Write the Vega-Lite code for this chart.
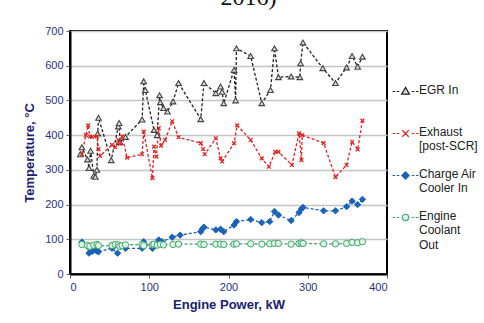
{
  "$schema": "https://vega.github.io/schema/vega-lite/v6.json",
  "width": 317,
  "height": 243,
  "autosize": "none",
  "padding": {"left": 70, "top": 31, "right": 97, "bottom": 49},
  "background": "white",
  "title": {"text": "2016)", "font": "Liberation Serif", "fontSize": 24, "fontWeight": "normal", "color": "#111", "anchor": "middle", "frame": "group", "dx": 20, "dy": 9, "offset": 5, "baseline": "alphabetic"},
  "config": {
    "font": "Liberation Sans",
    "view": {"stroke": "black", "strokeWidth": 2},
    "axis": {"labelFont": "Liberation Sans", "labelFontSize": 11, "labelColor": "#2b2f86", "titleFont": "Liberation Sans", "titleFontSize": 13, "titleFontWeight": "bold", "titleColor": "#1c2070", "domainColor": "black", "domainWidth": 2, "tickColor": "#666", "tickSize": 4}
  },
  "datasets": {
    "pts": [
      {"series": "EGR In", "kw": 13, "temp": 345},
      {"series": "EGR In", "kw": 15, "temp": 365},
      {"series": "EGR In", "kw": 22, "temp": 330},
      {"series": "EGR In", "kw": 24, "temp": 305},
      {"series": "EGR In", "kw": 26, "temp": 355},
      {"series": "EGR In", "kw": 30, "temp": 283},
      {"series": "EGR In", "kw": 32, "temp": 280},
      {"series": "EGR In", "kw": 34, "temp": 300},
      {"series": "EGR In", "kw": 35, "temp": 405},
      {"series": "EGR In", "kw": 36, "temp": 450},
      {"series": "EGR In", "kw": 52, "temp": 328},
      {"series": "EGR In", "kw": 61, "temp": 425},
      {"series": "EGR In", "kw": 62, "temp": 435},
      {"series": "EGR In", "kw": 63, "temp": 380},
      {"series": "EGR In", "kw": 70, "temp": 395},
      {"series": "EGR In", "kw": 91, "temp": 445},
      {"series": "EGR In", "kw": 93, "temp": 555},
      {"series": "EGR In", "kw": 95, "temp": 530},
      {"series": "EGR In", "kw": 106, "temp": 415},
      {"series": "EGR In", "kw": 110, "temp": 400},
      {"series": "EGR In", "kw": 113, "temp": 515},
      {"series": "EGR In", "kw": 114, "temp": 495},
      {"series": "EGR In", "kw": 118, "temp": 478},
      {"series": "EGR In", "kw": 123, "temp": 468},
      {"series": "EGR In", "kw": 130, "temp": 497},
      {"series": "EGR In", "kw": 137, "temp": 550},
      {"series": "EGR In", "kw": 165, "temp": 446},
      {"series": "EGR In", "kw": 169, "temp": 550},
      {"series": "EGR In", "kw": 184, "temp": 521},
      {"series": "EGR In", "kw": 190, "temp": 540},
      {"series": "EGR In", "kw": 192, "temp": 525},
      {"series": "EGR In", "kw": 194, "temp": 492},
      {"series": "EGR In", "kw": 207, "temp": 588},
      {"series": "EGR In", "kw": 209, "temp": 500},
      {"series": "EGR In", "kw": 210, "temp": 650},
      {"series": "EGR In", "kw": 228, "temp": 628},
      {"series": "EGR In", "kw": 242, "temp": 492},
      {"series": "EGR In", "kw": 253, "temp": 530},
      {"series": "EGR In", "kw": 258, "temp": 650},
      {"series": "EGR In", "kw": 263, "temp": 567},
      {"series": "EGR In", "kw": 279, "temp": 569},
      {"series": "EGR In", "kw": 290, "temp": 567},
      {"series": "EGR In", "kw": 291, "temp": 607},
      {"series": "EGR In", "kw": 294, "temp": 667},
      {"series": "EGR In", "kw": 319, "temp": 593},
      {"series": "EGR In", "kw": 335, "temp": 550},
      {"series": "EGR In", "kw": 349, "temp": 595},
      {"series": "EGR In", "kw": 356, "temp": 628},
      {"series": "EGR In", "kw": 363, "temp": 597},
      {"series": "EGR In", "kw": 369, "temp": 626},
      {"series": "Exhaust [post-SCR]", "kw": 15, "temp": 345},
      {"series": "Exhaust [post-SCR]", "kw": 20, "temp": 400},
      {"series": "Exhaust [post-SCR]", "kw": 23, "temp": 428},
      {"series": "Exhaust [post-SCR]", "kw": 25, "temp": 396},
      {"series": "Exhaust [post-SCR]", "kw": 28, "temp": 395},
      {"series": "Exhaust [post-SCR]", "kw": 34, "temp": 396},
      {"series": "Exhaust [post-SCR]", "kw": 36, "temp": 360},
      {"series": "Exhaust [post-SCR]", "kw": 38, "temp": 340},
      {"series": "Exhaust [post-SCR]", "kw": 53, "temp": 372},
      {"series": "Exhaust [post-SCR]", "kw": 57, "temp": 365},
      {"series": "Exhaust [post-SCR]", "kw": 61, "temp": 386},
      {"series": "Exhaust [post-SCR]", "kw": 63, "temp": 375},
      {"series": "Exhaust [post-SCR]", "kw": 66, "temp": 396},
      {"series": "Exhaust [post-SCR]", "kw": 72, "temp": 335},
      {"series": "Exhaust [post-SCR]", "kw": 91, "temp": 345},
      {"series": "Exhaust [post-SCR]", "kw": 93, "temp": 410},
      {"series": "Exhaust [post-SCR]", "kw": 104, "temp": 276},
      {"series": "Exhaust [post-SCR]", "kw": 106, "temp": 367},
      {"series": "Exhaust [post-SCR]", "kw": 109, "temp": 338},
      {"series": "Exhaust [post-SCR]", "kw": 112, "temp": 420},
      {"series": "Exhaust [post-SCR]", "kw": 115, "temp": 370},
      {"series": "Exhaust [post-SCR]", "kw": 120, "temp": 386},
      {"series": "Exhaust [post-SCR]", "kw": 129, "temp": 440},
      {"series": "Exhaust [post-SCR]", "kw": 137, "temp": 394},
      {"series": "Exhaust [post-SCR]", "kw": 165, "temp": 377},
      {"series": "Exhaust [post-SCR]", "kw": 168, "temp": 360},
      {"series": "Exhaust [post-SCR]", "kw": 170, "temp": 345},
      {"series": "Exhaust [post-SCR]", "kw": 184, "temp": 391},
      {"series": "Exhaust [post-SCR]", "kw": 190, "temp": 333},
      {"series": "Exhaust [post-SCR]", "kw": 192, "temp": 324},
      {"series": "Exhaust [post-SCR]", "kw": 207, "temp": 377},
      {"series": "Exhaust [post-SCR]", "kw": 211, "temp": 428},
      {"series": "Exhaust [post-SCR]", "kw": 228, "temp": 386},
      {"series": "Exhaust [post-SCR]", "kw": 242, "temp": 333},
      {"series": "Exhaust [post-SCR]", "kw": 251, "temp": 309},
      {"series": "Exhaust [post-SCR]", "kw": 259, "temp": 352},
      {"series": "Exhaust [post-SCR]", "kw": 263, "temp": 352},
      {"series": "Exhaust [post-SCR]", "kw": 280, "temp": 314},
      {"series": "Exhaust [post-SCR]", "kw": 289, "temp": 405},
      {"series": "Exhaust [post-SCR]", "kw": 292, "temp": 328},
      {"series": "Exhaust [post-SCR]", "kw": 293, "temp": 400},
      {"series": "Exhaust [post-SCR]", "kw": 320, "temp": 377},
      {"series": "Exhaust [post-SCR]", "kw": 335, "temp": 279},
      {"series": "Exhaust [post-SCR]", "kw": 349, "temp": 314},
      {"series": "Exhaust [post-SCR]", "kw": 356, "temp": 381},
      {"series": "Exhaust [post-SCR]", "kw": 363, "temp": 359},
      {"series": "Exhaust [post-SCR]", "kw": 369, "temp": 442},
      {"series": "Charge Air Cooler In", "kw": 15, "temp": 92},
      {"series": "Charge Air Cooler In", "kw": 22, "temp": 80},
      {"series": "Charge Air Cooler In", "kw": 24, "temp": 60},
      {"series": "Charge Air Cooler In", "kw": 28, "temp": 65},
      {"series": "Charge Air Cooler In", "kw": 32, "temp": 69},
      {"series": "Charge Air Cooler In", "kw": 34, "temp": 66},
      {"series": "Charge Air Cooler In", "kw": 36, "temp": 64},
      {"series": "Charge Air Cooler In", "kw": 53, "temp": 74},
      {"series": "Charge Air Cooler In", "kw": 60, "temp": 60},
      {"series": "Charge Air Cooler In", "kw": 64, "temp": 79},
      {"series": "Charge Air Cooler In", "kw": 70, "temp": 74},
      {"series": "Charge Air Cooler In", "kw": 91, "temp": 74},
      {"series": "Charge Air Cooler In", "kw": 93, "temp": 93},
      {"series": "Charge Air Cooler In", "kw": 104, "temp": 74},
      {"series": "Charge Air Cooler In", "kw": 106, "temp": 80},
      {"series": "Charge Air Cooler In", "kw": 112, "temp": 98},
      {"series": "Charge Air Cooler In", "kw": 116, "temp": 93},
      {"series": "Charge Air Cooler In", "kw": 129, "temp": 106},
      {"series": "Charge Air Cooler In", "kw": 139, "temp": 112},
      {"series": "Charge Air Cooler In", "kw": 165, "temp": 122},
      {"series": "Charge Air Cooler In", "kw": 167, "temp": 130},
      {"series": "Charge Air Cooler In", "kw": 169, "temp": 135},
      {"series": "Charge Air Cooler In", "kw": 184, "temp": 127},
      {"series": "Charge Air Cooler In", "kw": 190, "temp": 129},
      {"series": "Charge Air Cooler In", "kw": 194, "temp": 122},
      {"series": "Charge Air Cooler In", "kw": 207, "temp": 141},
      {"series": "Charge Air Cooler In", "kw": 210, "temp": 151},
      {"series": "Charge Air Cooler In", "kw": 228, "temp": 157},
      {"series": "Charge Air Cooler In", "kw": 242, "temp": 148},
      {"series": "Charge Air Cooler In", "kw": 252, "temp": 151},
      {"series": "Charge Air Cooler In", "kw": 258, "temp": 180},
      {"series": "Charge Air Cooler In", "kw": 263, "temp": 170},
      {"series": "Charge Air Cooler In", "kw": 279, "temp": 154},
      {"series": "Charge Air Cooler In", "kw": 289, "temp": 177},
      {"series": "Charge Air Cooler In", "kw": 292, "temp": 188},
      {"series": "Charge Air Cooler In", "kw": 294, "temp": 192},
      {"series": "Charge Air Cooler In", "kw": 320, "temp": 182},
      {"series": "Charge Air Cooler In", "kw": 335, "temp": 182},
      {"series": "Charge Air Cooler In", "kw": 349, "temp": 194},
      {"series": "Charge Air Cooler In", "kw": 356, "temp": 210},
      {"series": "Charge Air Cooler In", "kw": 363, "temp": 200},
      {"series": "Charge Air Cooler In", "kw": 369, "temp": 215},
      {"series": "Engine Coolant Out", "kw": 15, "temp": 85},
      {"series": "Engine Coolant Out", "kw": 22, "temp": 82},
      {"series": "Engine Coolant Out", "kw": 25, "temp": 80},
      {"series": "Engine Coolant Out", "kw": 30, "temp": 83},
      {"series": "Engine Coolant Out", "kw": 34, "temp": 85},
      {"series": "Engine Coolant Out", "kw": 36, "temp": 82},
      {"series": "Engine Coolant Out", "kw": 53, "temp": 82},
      {"series": "Engine Coolant Out", "kw": 57, "temp": 85},
      {"series": "Engine Coolant Out", "kw": 61, "temp": 84},
      {"series": "Engine Coolant Out", "kw": 63, "temp": 80},
      {"series": "Engine Coolant Out", "kw": 66, "temp": 82},
      {"series": "Engine Coolant Out", "kw": 70, "temp": 84},
      {"series": "Engine Coolant Out", "kw": 91, "temp": 85},
      {"series": "Engine Coolant Out", "kw": 93, "temp": 82},
      {"series": "Engine Coolant Out", "kw": 104, "temp": 84},
      {"series": "Engine Coolant Out", "kw": 106, "temp": 86},
      {"series": "Engine Coolant Out", "kw": 110, "temp": 83},
      {"series": "Engine Coolant Out", "kw": 114, "temp": 85},
      {"series": "Engine Coolant Out", "kw": 118, "temp": 84},
      {"series": "Engine Coolant Out", "kw": 130, "temp": 85},
      {"series": "Engine Coolant Out", "kw": 137, "temp": 86},
      {"series": "Engine Coolant Out", "kw": 165, "temp": 86},
      {"series": "Engine Coolant Out", "kw": 169, "temp": 85},
      {"series": "Engine Coolant Out", "kw": 184, "temp": 86},
      {"series": "Engine Coolant Out", "kw": 190, "temp": 86},
      {"series": "Engine Coolant Out", "kw": 194, "temp": 85},
      {"series": "Engine Coolant Out", "kw": 207, "temp": 86},
      {"series": "Engine Coolant Out", "kw": 210, "temp": 87},
      {"series": "Engine Coolant Out", "kw": 228, "temp": 87},
      {"series": "Engine Coolant Out", "kw": 242, "temp": 86},
      {"series": "Engine Coolant Out", "kw": 252, "temp": 87},
      {"series": "Engine Coolant Out", "kw": 258, "temp": 88},
      {"series": "Engine Coolant Out", "kw": 263, "temp": 88},
      {"series": "Engine Coolant Out", "kw": 279, "temp": 86},
      {"series": "Engine Coolant Out", "kw": 289, "temp": 88},
      {"series": "Engine Coolant Out", "kw": 292, "temp": 90},
      {"series": "Engine Coolant Out", "kw": 294, "temp": 88},
      {"series": "Engine Coolant Out", "kw": 320, "temp": 87},
      {"series": "Engine Coolant Out", "kw": 335, "temp": 87},
      {"series": "Engine Coolant Out", "kw": 349, "temp": 88},
      {"series": "Engine Coolant Out", "kw": 356, "temp": 91},
      {"series": "Engine Coolant Out", "kw": 363, "temp": 90},
      {"series": "Engine Coolant Out", "kw": 369, "temp": 93}
    ]
  },
  "data": {"name": "pts"},
  "encoding": {
    "x": {"field": "kw", "type": "quantitative", "title": "Engine Power, kW",
      "scale": {"domain": [0, 400], "nice": false},
      "axis": {"values": [0, 100, 200, 300, 400], "grid": false, "labelPadding": 3, "titlePadding": 6}},
    "y": {"field": "temp", "type": "quantitative", "title": "Temperature, °C",
      "scale": {"domain": [0, 700], "nice": false},
      "axis": {"values": [0, 100, 200, 300, 400, 500, 600, 700], "grid": true, "gridColor": "#c4c4c4", "gridWidth": 1.5, "labelPadding": 3, "titlePadding": 8}}
  },
  "layer": [
    {
      "mark": {"type": "line", "strokeDash": [3, 2], "strokeWidth": 1.3},
      "encoding": {
        "color": {"field": "series", "type": "nominal",
          "scale": {"domain": ["EGR In", "Exhaust [post-SCR]", "Charge Air Cooler In", "Engine Coolant Out"], "range": ["#222222", "#e32222", "#1b63b8", "#3aa86a"]},
          "legend": {
            "title": null,
            "orient": "none",
            "legendX": 327,
            "legendY": 52,
            "symbolType": "M-1.733,0L-1.387,0M-1.179,0L-0.832,0M0.832,0L1.179,0M1.387,0L1.733,0",
            "symbolSize": 225,
            "symbolStrokeWidth": 1.2,
            "symbolDash": [],
            "labelFont": "Liberation Sans",
            "labelFontSize": 12,
            "labelColor": "#222",
            "labelOffset": 5,
            "labelBaseline": "top",
            "gridAlign": "all",
            "rowPadding": 0,
            "labelLimit": 200,
            "labelExpr": "datum.label == 'Exhaust [post-SCR]' ? ['Exhaust', '[post-SCR]'] : datum.label == 'Charge Air Cooler In' ? ['Charge Air', 'Cooler In'] : datum.label == 'Engine Coolant Out' ? ['Engine', 'Coolant', 'Out'] : datum.label",
            "encode": {
              "labels": {"update": {"lineHeight": {"value": 14.5}, "dy": {"value": -7}}},
              "symbols": {"update": {
                "size": {"value": 225},
                "shape": {"signal": "'M-1.733,0L-1.387,0M-1.179,0L-0.832,0M0.832,0L1.179,0M1.387,0L1.733,0' + (datum.value == 'EGR In' ? 'M0,-0.555L0.52,0.347L-0.52,0.347Z' : datum.value == 'Exhaust [post-SCR]' ? 'M-0.433,-0.433L0.433,0.433M-0.433,0.433L0.433,-0.433' : datum.value == 'Charge Air Cooler In' ? 'M0,-0.485L0.485,0L0,0.485L-0.485,0Z' : 'M-0.433,0A0.433,0.433 0 1,0 0.433,0A0.433,0.433 0 1,0 -0.433,0Z')"},
                "fill": {"signal": "datum.value == 'EGR In' ? '#d9d9d9' : datum.value == 'Exhaust [post-SCR]' ? 'transparent' : datum.value == 'Charge Air Cooler In' ? '#1b63b8' : '#e3f3e8'"},
                "stroke": {"signal": "datum.value == 'EGR In' ? '#333333' : datum.value == 'Exhaust [post-SCR]' ? '#e32222' : datum.value == 'Charge Air Cooler In' ? '#1b63b8' : '#3aa86a'"},
                "opacity": {"value": 1}
              }}
            }
          }}
      }
    },
    {
      "transform": [{"filter": "datum.series == 'EGR In'"}],
      "mark": {"type": "point", "shape": "triangle-up", "size": 32, "stroke": "#444444", "fill": "#dcdcdc", "strokeWidth": 1.1, "opacity": 1}
    },
    {
      "transform": [{"filter": "datum.series == 'Exhaust [post-SCR]'"}],
      "mark": {"type": "point", "shape": "M-1,-1L1,1M-1,1L1,-1", "size": 14, "stroke": "#e32222", "fill": "transparent", "strokeWidth": 1.3, "opacity": 1}
    },
    {
      "transform": [{"filter": "datum.series == 'Charge Air Cooler In'"}],
      "mark": {"type": "point", "shape": "diamond", "size": 40, "stroke": "#1b63b8", "fill": "#1b63b8", "strokeWidth": 1, "opacity": 1}
    },
    {
      "transform": [{"filter": "datum.series == 'Engine Coolant Out'"}],
      "mark": {"type": "point", "shape": "circle", "size": 40, "stroke": "#3aa86a", "fill": "#e3f3e8", "strokeWidth": 1, "opacity": 1}
    }
  ]
}
